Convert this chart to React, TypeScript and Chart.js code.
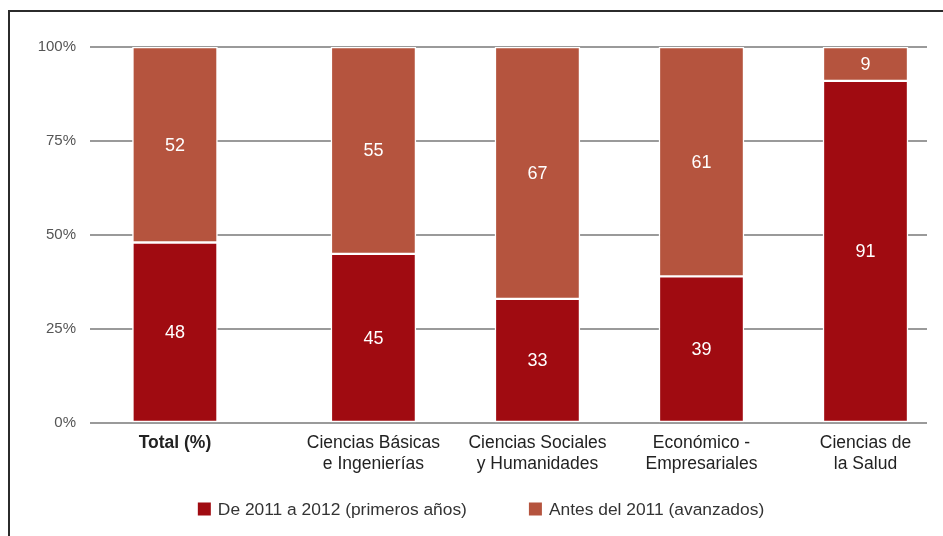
import React, { useEffect, useRef } from 'react';
import { Chart, registerables } from 'chart.js';

Chart.register(...registerables);

// ---- data ----
const CATEGORIES: string[][] = [
  ['Total (%)'],
  ['Ciencias Básicas', 'e Ingenierías'],
  ['Ciencias Sociales', 'y Humanidades'],
  ['Económico -', 'Empresariales'],
  ['Ciencias de', 'la Salud'],
];
// category slots along the axis (the "Total" column stands a little apart)
const CATEGORY_SLOTS = [0, 1.21, 2.21, 3.21, 4.21];
const SERIES_NAMES = ['De 2011 a 2012 (primeros años)', 'Antes del 2011 (avanzados)'];
const SERIES_RECENT = [48, 45, 33, 39, 91];
const SERIES_ADVANCED = [52, 55, 67, 61, 9];
const Y_TICK_STEP = 25;
const Y_MAX = 100;

// ---- styles ----
const COLORS = ['#A00B11', '#B5543E'];

function fontAvailable(name: string): boolean {
  const c = document.createElement('canvas').getContext('2d');
  if (!c) return false;
  const s = 'Ciencias Básicas 2011 (primeros)';
  c.font = '20px monospace';
  const a = c.measureText(s).width;
  c.font = `20px '${name}', monospace`;
  const b = c.measureText(s).width;
  return Math.abs(a - b) > 0.5;
}

export default function App() {
  const ref = useRef<HTMLCanvasElement | null>(null);

  useEffect(() => {
    if (!ref.current) return;
    const narrow = fontAvailable('Liberation Sans Narrow');
    const FAMILY = narrow ? "'Liberation Sans Narrow', 'Liberation Sans', Arial, sans-serif" : "'Liberation Sans', Arial, sans-serif";
    const S = narrow
      ? { yTick: 18, xTick: 21, xLine: 1.0, legend: 21, value: 21 }
      : { yTick: 15, xTick: 17.5, xLine: 1.2, legend: 17.4, value: 18 };

    const valueLabels = {
      id: 'valueLabels',
      afterDatasetsDraw(chart: any) {
        const ctx = chart.ctx;
        ctx.save();
        ctx.fillStyle = '#ffffff';
        ctx.font = `${S.value}px ${FAMILY}`;
        ctx.textAlign = 'center';
        ctx.textBaseline = 'middle';
        chart.data.datasets.forEach((ds: any, di: number) => {
          const meta = chart.getDatasetMeta(di);
          meta.data.forEach((el: any, i: number) => {
            const { x, y, base } = el.getProps(['x', 'y', 'base'], true);
            ctx.fillText(String(ds.data[i].y), x, (y + base) / 2 + 1);
          });
        });
        ctx.restore();
      },
    };

    const bottomLegend = {
      id: 'bottomLegend',
      afterDraw(chart: any) {
        const ctx = chart.ctx;
        const BOX = 13;
        const GAP = 7;
        const SEP = 62;
        const cy = 497;
        ctx.save();
        ctx.font = `${S.legend}px ${FAMILY}`;
        ctx.textBaseline = 'middle';
        ctx.textAlign = 'left';
        const items = chart.data.datasets.map((ds: any) => ({
          text: ds.label as string,
          color: ds.backgroundColor as string,
          w: BOX + GAP + ctx.measureText(ds.label).width,
        }));
        const total = items.reduce((s: number, it: any) => s + it.w, 0) + SEP * (items.length - 1);
        let x = 471 - total / 2;
        items.forEach((it: any) => {
          ctx.fillStyle = it.color;
          ctx.fillRect(x, cy - BOX / 2, BOX, BOX);
          ctx.fillStyle = '#333333';
          ctx.fillText(it.text, x + BOX + GAP, cy + 1);
          x += it.w + SEP;
        });
        ctx.restore();
      },
    };

    const datasets = [SERIES_RECENT, SERIES_ADVANCED].map((vals, k) => ({
      label: SERIES_NAMES[k],
      data: vals.map((v, i) => ({ x: CATEGORY_SLOTS[i], y: v })),
      backgroundColor: COLORS[k],
      borderColor: '#ffffff',
      borderWidth: 1.5,
      borderSkipped: false as any,
      barThickness: 85,
    }));

    const chart = new Chart(ref.current, {
      type: 'bar',
      data: { datasets },
      options: {
        animation: false,
        responsive: false,
        layout: { padding: { top: 35, right: 16, left: 0, bottom: 0 } },
        plugins: {
          legend: { display: false },
          tooltip: { enabled: false },
        },
        scales: {
          x: {
            type: 'linear',
            stacked: true,
            offset: false,
            min: -0.518,
            max: 4.585,
            grid: { display: false, offset: false, drawTicks: false },
            border: { display: false },
            afterBuildTicks: (scale: any) => {
              scale.ticks = CATEGORY_SLOTS.map((v) => ({ value: v }));
            },
            afterFit: (scale: any) => {
              scale.height = 113;
            },
            ticks: {
              autoSkip: false,
              maxRotation: 0,
              minRotation: 0,
              padding: 10,
              color: '#222222',
              font: (ctx: any) => ({
                family: FAMILY,
                size: S.xTick,
                lineHeight: S.xLine,
                weight: ctx.index === 0 ? 'bold' : 'normal',
              }),
              callback: (_v: any, i: number) => CATEGORIES[i],
            },
          },
          y: {
            stacked: true,
            min: 0,
            max: Y_MAX,
            afterFit: (scale: any) => {
              scale.width = 80;
            },
            grid: { color: '#9a9a9a', lineWidth: 2, drawTicks: false },
            border: { display: false },
            ticks: {
              stepSize: Y_TICK_STEP,
              padding: 14,
              color: '#555555',
              font: { family: FAMILY, size: S.yTick },
              callback: (v: any) => `${v}%`,
            },
          },
        },
      },
      plugins: [valueLabels, bottomLegend],
    });

    return () => chart.destroy();
  }, []);

  return (
    <div
      style={{
        position: 'fixed',
        left: 8,
        top: 10,
        width: 935,
        height: 526,
        boxSizing: 'border-box',
        borderTop: '2px solid #2b2b2b',
        borderLeft: '2px solid #2b2b2b',
        background: '#ffffff',
      }}
    >
      <canvas ref={ref} width={933} height={524} style={{ display: 'block' }} />
    </div>
  );
}
